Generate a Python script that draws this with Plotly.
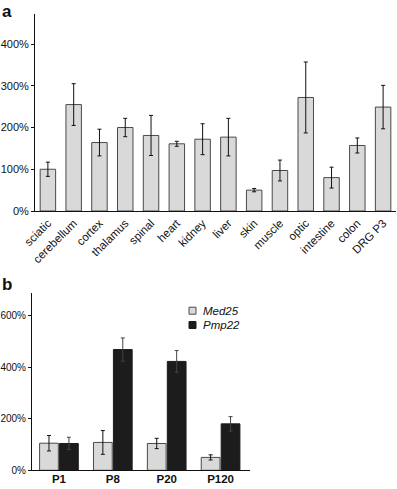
import plotly.graph_objects as go

# Panel a data
tissues = ["sciatic", "cerebellum", "cortex", "thalamus", "spinal", "heart", "kidney",
           "liver", "skin", "muscle", "optic", "intestine", "colon", "DRG P3"]
tissue_vals = [100, 255, 164, 200, 181, 161, 172, 177, 50, 97, 272, 80, 157, 249]
tissue_err = [17, 50, 32, 22, 48, 6, 37, 45, 4, 25, 85, 25, 18, 52]

# Panel b data
ages = ["P1", "P8", "P20", "P120"]
med25_vals = [105, 108, 104, 50]
med25_err = [30, 46, 20, 10]
pmp22_vals = [104, 468, 422, 180]
pmp22_err = [24, 45, 42, 28]

a_ticks = [0, 100, 200, 300, 400]
a_ticktext = ["0%", "100%", "200%", "300%", "400%"]
b_ticks = [0, 200, 400, 600]
b_ticktext = ["0%", "200%", "400%", "600%"]
legend_names = ["Med25", "Pmp22"]

FONT = "Liberation Sans"
LIGHT = "#d9d9d9"
DARK = "#1c1c1c"
EDGE = "#4a4a4a"

fig = go.Figure()

fig.add_trace(go.Bar(
    x=tissues, y=tissue_vals, xaxis="x", yaxis="y",
    marker=dict(color=LIGHT, line=dict(color=EDGE, width=1)),
    error_y=dict(type="data", array=tissue_err, color="#111", thickness=1, width=2),
    showlegend=False, width=0.6,
))

fig.add_trace(go.Bar(
    x=ages, y=med25_vals, xaxis="x2", yaxis="y2", name=legend_names[0],
    marker=dict(color=LIGHT, line=dict(color=EDGE, width=1)),
    error_y=dict(type="data", array=med25_err, color="#111", thickness=1, width=2),
    offsetgroup="m", showlegend=False,
))
fig.add_trace(go.Bar(
    x=ages, y=pmp22_vals, xaxis="x2", yaxis="y2", name=legend_names[1],
    marker=dict(color=DARK, line=dict(color=DARK, width=1)),
    error_y=dict(type="data", array=pmp22_err, color="#444", thickness=1, width=2),
    offsetgroup="p", showlegend=False,
))

W, H = 397, 489
axis_common = dict(showgrid=False, zeroline=False, showline=True, linecolor="#111",
                   linewidth=1, automargin=False)

# manual legend (swatches + italic labels)
legend_shapes = []
legend_annots = []
for i, (name, col, edge) in enumerate(zip(legend_names, [LIGHT, DARK], [EDGE, DARK])):
    yc = 310.7 + i * 14.3
    legend_shapes.append(dict(type="rect", xref="paper", yref="paper",
                              x0=189 / W, x1=196 / W, y0=1 - (yc + 3.5) / H, y1=1 - (yc - 3.5) / H,
                              fillcolor=col, line=dict(color=edge, width=1)))
    legend_annots.append(dict(text=name, x=201 / W, y=1 - yc / H, xref="paper", yref="paper",
                              xanchor="left", yanchor="middle", showarrow=False,
                              font=dict(size=11.5, style="italic", family=FONT, color="#111")))

fig.update_layout(
    width=W, height=H,
    margin=dict(l=0, r=0, t=0, b=0, autoexpand=False),
    paper_bgcolor="white", plot_bgcolor="white",
    font=dict(family=FONT, color="#111"),
    barmode="group", bargap=0.26, bargroupgap=0.06,
    showlegend=False,
    xaxis=dict(domain=[35 / W, 396 / W], anchor="y", tickangle=-45,
               tickfont=dict(size=11.5), ticks="", **axis_common),
    yaxis=dict(domain=[1 - 211 / H, 1 - 14 / H], anchor="x", range=[0, 472],
               tickmode="array", tickvals=a_ticks, ticktext=a_ticktext,
               ticks="outside", ticklen=3,
               tickcolor="#111", tickfont=dict(size=11), **axis_common),
    xaxis2=dict(domain=[32 / W, 250 / W], anchor="y2", range=[-0.5, 3.546],
                tickfont=dict(size=11.5, weight="bold"), ticks="",
                ticklabelstandoff=-2, **axis_common),
    yaxis2=dict(domain=[1 - 470.3 / H, 1 - 293.3 / H], anchor="x2", range=[0, 686],
                tickmode="array", tickvals=b_ticks, ticktext=b_ticktext,
                ticks="outside", ticklen=3,
                tickcolor="#111", tickfont=dict(size=10), **axis_common),
    shapes=legend_shapes,
    annotations=[
        dict(text="<b>a</b>", x=0, y=1, xref="paper", yref="paper", xanchor="left",
             yanchor="top", showarrow=False, font=dict(size=17, family=FONT)),
        dict(text="<b>b</b>", x=0, y=1 - 273 / H, xref="paper", yref="paper",
             xanchor="left", yanchor="top", showarrow=False, font=dict(size=17, family=FONT)),
    ] + legend_annots,
)

fig.write_html("out.html", config={"displayModeBar": False},
               post_script="document.body.style.margin='0';document.body.style.overflow='hidden';")
